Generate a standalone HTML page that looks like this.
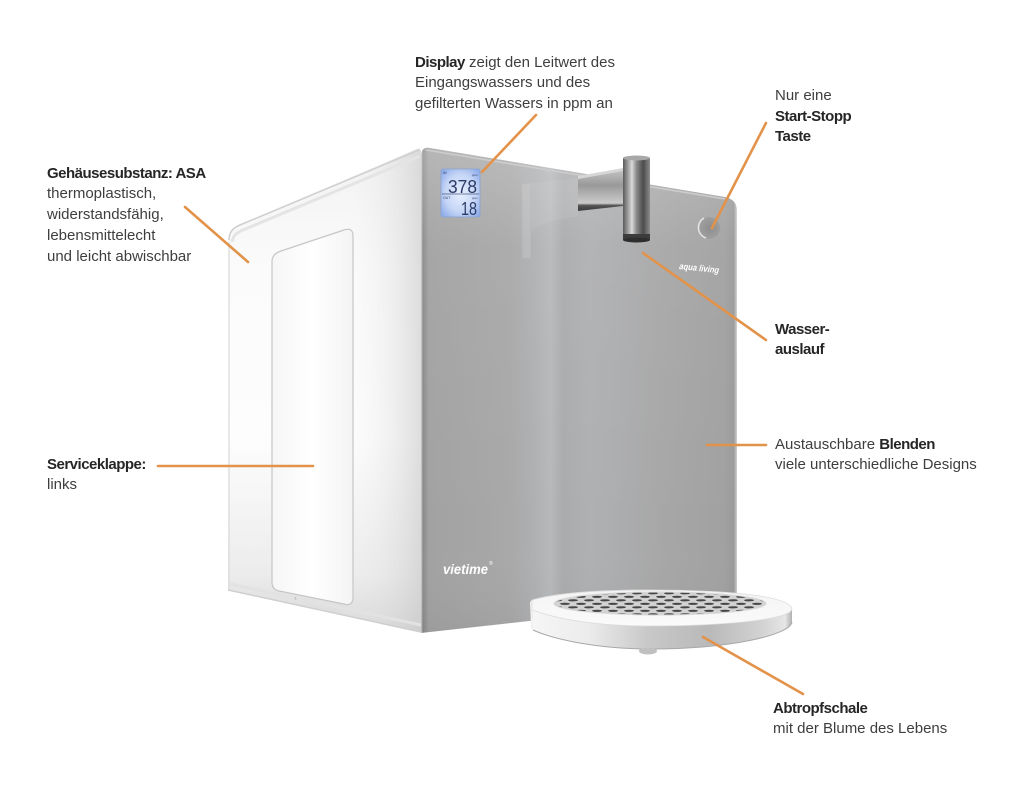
<!DOCTYPE html>
<html><head><meta charset="utf-8">
<style>
html,body{margin:0;padding:0;background:#fff;}
body{width:1024px;height:791px;position:relative;overflow:hidden;font-family:"Liberation Sans",sans-serif;}
svg{position:absolute;left:0;top:0;}
.t{position:absolute;font-size:15px;line-height:20.6px;color:#3e3e3e;white-space:nowrap;}
.t b{color:#262626;letter-spacing:-0.5px;}
</style></head><body>
<svg width="1024" height="791" viewBox="0 0 1024 791">
<defs>
 <linearGradient id="sideV" x1="0" y1="150" x2="0" y2="632" gradientUnits="userSpaceOnUse">
  <stop offset="0" stop-color="#f2f2f2"/>
  <stop offset="0.25" stop-color="#fbfbfb"/>
  <stop offset="0.6" stop-color="#fdfdfd"/>
  <stop offset="0.88" stop-color="#ececec"/>
  <stop offset="1" stop-color="#d6d6d6"/>
 </linearGradient>
 <linearGradient id="sideH" x1="228" y1="0" x2="421" y2="0" gradientUnits="userSpaceOnUse">
  <stop offset="0" stop-color="#ffffff" stop-opacity="0"/>
  <stop offset="0.55" stop-color="#ffffff" stop-opacity="0"/>
  <stop offset="0.85" stop-color="#d8d8d8" stop-opacity="0.35"/>
  <stop offset="1" stop-color="#c8c8c8" stop-opacity="0.6"/>
 </linearGradient>
 <linearGradient id="door" x1="272" y1="0" x2="353" y2="0" gradientUnits="userSpaceOnUse">
  <stop offset="0" stop-color="#f6f6f6"/>
  <stop offset="0.5" stop-color="#ffffff"/>
  <stop offset="1" stop-color="#f4f4f4"/>
 </linearGradient>
 <linearGradient id="front" x1="421" y1="0" x2="737" y2="0" gradientUnits="userSpaceOnUse">
  <stop offset="0" stop-color="#d4d4d4"/>
  <stop offset="0.006" stop-color="#8a8a8a"/>
  <stop offset="0.025" stop-color="#a2a2a2"/>
  <stop offset="0.28" stop-color="#a8a8a8"/>
  <stop offset="0.36" stop-color="#afb0b2"/>
  <stop offset="0.41" stop-color="#b7b8ba"/>
  <stop offset="0.45" stop-color="#aaabad"/>
  <stop offset="0.53" stop-color="#afb0b2"/>
  <stop offset="0.62" stop-color="#acadaf"/>
  <stop offset="0.76" stop-color="#a7a7a7"/>
  <stop offset="0.96" stop-color="#a1a1a1"/>
  <stop offset="0.99" stop-color="#9a9a9a"/>
  <stop offset="1" stop-color="#d0d0d0"/>
 </linearGradient>
 <linearGradient id="frontV" x1="0" y1="148" x2="0" y2="633" gradientUnits="userSpaceOnUse">
  <stop offset="0" stop-color="#ffffff" stop-opacity="0.22"/>
  <stop offset="0.2" stop-color="#ffffff" stop-opacity="0.05"/>
  <stop offset="0.8" stop-color="#ffffff" stop-opacity="0"/>
  <stop offset="1" stop-color="#000000" stop-opacity="0.04"/>
 </linearGradient>
 <linearGradient id="cyl" x1="623" y1="0" x2="650" y2="0" gradientUnits="userSpaceOnUse">
  <stop offset="0" stop-color="#5a5a5a"/>
  <stop offset="0.18" stop-color="#9c9c9c"/>
  <stop offset="0.33" stop-color="#dadada"/>
  <stop offset="0.5" stop-color="#8a8a8a"/>
  <stop offset="0.75" stop-color="#4c4c4c"/>
  <stop offset="1" stop-color="#8c8c8c"/>
 </linearGradient>
 <linearGradient id="brk" x1="0" y1="172" x2="0" y2="210" gradientUnits="userSpaceOnUse">
  <stop offset="0" stop-color="#bdbdbd"/>
  <stop offset="0.35" stop-color="#999"/>
  <stop offset="0.6" stop-color="#b4b4b4"/>
  <stop offset="0.82" stop-color="#cbcbcb"/>
  <stop offset="0.88" stop-color="#555"/>
  <stop offset="1" stop-color="#3e3e3e"/>
 </linearGradient>
 <radialGradient id="lcd" cx="0.5" cy="0.5" r="0.65">
  <stop offset="0" stop-color="#e8efff"/>
  <stop offset="0.6" stop-color="#c6d6f6"/>
  <stop offset="1" stop-color="#8fadea"/>
 </radialGradient>
 <radialGradient id="btn" cx="0.55" cy="0.5" r="0.6">
  <stop offset="0" stop-color="#8e8e8e"/>
  <stop offset="1" stop-color="#a2a2a2"/>
 </radialGradient>
 <linearGradient id="band" x1="530" y1="0" x2="793" y2="0" gradientUnits="userSpaceOnUse">
  <stop offset="0" stop-color="#f6f6f6"/>
  <stop offset="0.22" stop-color="#ececec"/>
  <stop offset="0.45" stop-color="#c8c8c8"/>
  <stop offset="0.68" stop-color="#b9b9b9"/>
  <stop offset="0.88" stop-color="#d2d2d2"/>
  <stop offset="0.97" stop-color="#e6e6e6"/>
  <stop offset="1" stop-color="#a8a8a8"/>
 </linearGradient>
 <linearGradient id="tray" x1="0" y1="589" x2="0" y2="626" gradientUnits="userSpaceOnUse">
  <stop offset="0" stop-color="#f4f4f4"/>
  <stop offset="1" stop-color="#fafafa"/>
 </linearGradient>
 <pattern id="grate" width="16" height="7" patternUnits="userSpaceOnUse">
  <rect width="16" height="7" fill="#d2d2d2"/>
  <ellipse cx="5" cy="1.8" rx="5" ry="1.1" fill="#474747"/>
  <ellipse cx="13" cy="5.3" rx="5" ry="1.1" fill="#474747"/>
  <ellipse cx="-3" cy="5.3" rx="5" ry="1.1" fill="#474747"/>
 </pattern>
</defs>

<!-- side panel -->
<path d="M228,242 C228,232 232,228 240,224 L417,149 C420,148 421,149 421,153 L421,632 L228,590 Z" fill="url(#sideV)"/>
<path d="M228,242 C228,232 232,228 240,224 L417,149 C420,148 421,149 421,153 L421,632 L228,590 Z" fill="url(#sideH)"/>
<path d="M229,240 C229,232 233,228 240,225 L419,150" fill="none" stroke="#cfcfcf" stroke-width="1.5"/>
<path d="M232,242 C233,236 236,233 243,230 L420,156" fill="none" stroke="#e4e4e4" stroke-width="3"/>
<path d="M229,242 L229,590" stroke="#dadada" stroke-width="1.2"/>
<path d="M228,590 L421,632" stroke="#cfcfcf" stroke-width="1.5"/>
<path d="M230,584 L421,625" stroke="#e2e2e2" stroke-width="3"/>
<!-- service door -->
<path d="M272,262 C272,256 275,253 281,251 L344,230 C350,228 353,230 353,236 L353,597 C353,603 350,606 344,604 L279,591 C274,590 272,587 272,582 Z" fill="url(#door)" stroke="#c6c6c6" stroke-width="1.2"/>
<path d="M295,597 L296,600" stroke="#bbb" stroke-width="1"/>

<!-- front panel -->
<path d="M421,156 C421,150 424,147 430,148 L725,197 C733,199 737,203 737,211 L737,598 L421,633 Z" fill="url(#front)"/>
<path d="M421,156 C421,150 424,147 430,148 L725,197 C733,199 737,203 737,211 L737,598 L421,633 Z" fill="url(#frontV)"/>
<path d="M426,150 L725,199" stroke="#cdcdcd" stroke-width="1.5" fill="none"/>
<!-- arm reflection -->
<path d="M522,184 L578,178 L578,216 C560,219 540,223 531,232 L531,258 L523,258 Z" fill="#ffffff" opacity="0.07"/>
<rect x="522" y="184" width="8" height="74" fill="#ffffff" opacity="0.08"/>

<!-- display -->
<rect x="441" y="169" width="39" height="48" rx="2" fill="url(#lcd)" stroke="#8aa2d0" stroke-width="0.8"/>
<line x1="442" y1="194" x2="479" y2="194" stroke="#4a5a80" stroke-width="0.8"/>
<text x="443" y="174" font-size="3.5" fill="#2d3b66" font-family="Liberation Sans">IN</text>
<text x="443" y="199" font-size="3.5" fill="#2d3b66" font-family="Liberation Sans">OUT</text>
<text x="472" y="176" font-size="3" fill="#2d3b66" font-family="Liberation Sans">ppm</text>
<text x="472" y="199" font-size="3" fill="#2d3b66" font-family="Liberation Sans">ppm</text>
<text x="448" y="193" font-size="18" fill="#2d3b66" font-family="Liberation Sans" textLength="29" lengthAdjust="spacingAndGlyphs">378</text>
<text x="461" y="215" font-size="18" fill="#2d3b66" font-family="Liberation Sans" textLength="16" lengthAdjust="spacingAndGlyphs">18</text>

<!-- bracket -->
<polygon points="578,178 623,170 623,206 578,211" fill="url(#brk)"/>
<polygon points="578,176 623,168 623,171 578,179" fill="#d6d6d6"/>
<!-- spout cylinder -->
<rect x="623" y="158" width="27" height="82" fill="url(#cyl)"/>
<ellipse cx="636.5" cy="158" rx="13.5" ry="2.5" fill="#a8a8a8"/>
<rect x="623" y="234" width="27" height="6" fill="#3c3c3c"/>
<ellipse cx="636.5" cy="240" rx="13.5" ry="2.5" fill="#2e2e2e"/>

<!-- button -->
<circle cx="709" cy="228" r="11" fill="url(#btn)"/>
<path d="M704,218 A11,11 0 0,0 706,238" fill="none" stroke="#e6e6e6" stroke-width="1.5"/>

<text x="679" y="269" transform="rotate(6 679 269)" font-size="9" font-weight="bold" font-style="italic" fill="#fff" font-family="Liberation Sans" textLength="40" lengthAdjust="spacingAndGlyphs">aqua living</text>
<text x="443" y="574" font-size="14" font-weight="bold" font-style="italic" fill="#fff" font-family="Liberation Sans" textLength="45" lengthAdjust="spacingAndGlyphs">vietime</text>
<text x="489" y="565" font-size="5" fill="#fff" font-family="Liberation Sans">®</text>

<!-- drip tray -->
<path d="M532,610 C560,620 600,626 650,626 C720,626 790,620 792,609 L792,622 C790,635 730,649 650,649 C600,649 555,640 533,630 Z" fill="url(#band)"/>
<path d="M530,602 L532,600 L532,610 L533,630 L531,628 Z" fill="#f0f0f0"/>
<path d="M532,600 C560,592 610,590 650,590 C720,590 790,595 792,609 C790,620 720,626 650,626 C600,626 560,620 532,610 Z" fill="url(#tray)" stroke="#dcdcdc" stroke-width="0.8"/>
<ellipse cx="660" cy="603.5" rx="106" ry="11.5" fill="url(#grate)" stroke="#d8d8d8" stroke-width="1"/>
<path d="M533,630 C555,640 600,649 650,649 C730,649 790,635 792,622" fill="none" stroke="#a8a8a8" stroke-width="1"/>
<ellipse cx="648" cy="651" rx="9" ry="3.5" fill="#c0c0c0"/>

<!-- connectors -->
<g stroke="#e3924a" stroke-width="2.6" stroke-linecap="round" fill="none">
 <line x1="536" y1="115" x2="482" y2="172"/>
 <line x1="766" y1="123" x2="712" y2="228"/>
 <line x1="643" y1="253" x2="766" y2="340"/>
 <line x1="707" y1="445" x2="766" y2="445"/>
 <line x1="185" y1="207" x2="248" y2="262"/>
 <line x1="158" y1="466" x2="313" y2="466"/>
 <line x1="703" y1="637" x2="803" y2="694"/>
</g>
</svg>

<div class="t" style="left:415px;top:52.5px;"><b>Display</b> zeigt den Leitwert des<br>Eingangswassers und des<br>gefilterten Wassers in ppm an</div>
<div class="t" style="left:775px;top:86px;">Nur eine<br><b>Start-Stopp</b><br><b>Taste</b></div>
<div class="t" style="left:47px;top:163.5px;line-height:20.8px;"><b>Gehäusesubstanz: ASA</b><br>thermoplastisch,<br>widerstandsfähig,<br>lebensmittelecht<br>und leicht abwischbar</div>
<div class="t" style="left:775px;top:319.5px;"><b>Wasser-</b><br><b>auslauf</b></div>
<div class="t" style="left:775px;top:434.5px;">Austauschbare <b>Blenden</b><br>viele unterschiedliche Designs</div>
<div class="t" style="left:47px;top:454.5px;"><b>Serviceklappe:</b><br>links</div>
<div class="t" style="left:773px;top:698.5px;"><b>Abtropfschale</b><br>mit der Blume des Lebens</div>
</body></html>
